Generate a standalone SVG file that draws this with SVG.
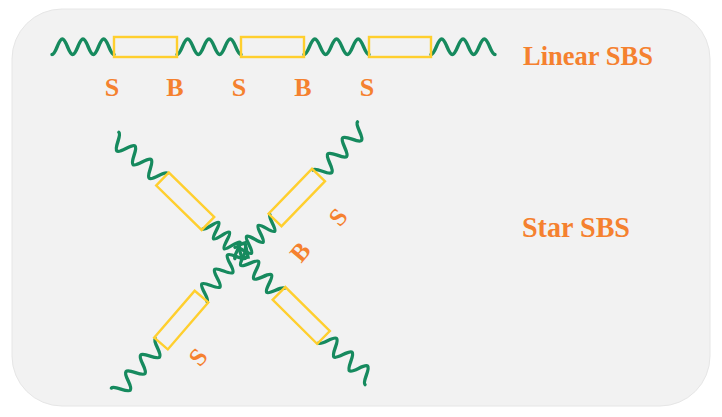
<svg xmlns="http://www.w3.org/2000/svg" width="722" height="417" viewBox="0 0 722 417">
<style>
.wave{fill:none;stroke:#168a5e;stroke-width:3.4;stroke-linecap:round;vector-effect:non-scaling-stroke}
.box{fill:none;stroke:#ffcf2e;stroke-width:2.4}
.lbl{font-family:"Liberation Serif","Times New Roman",serif;font-weight:bold;fill:#f5812f}
</style>
<defs>
<path id="w" class="wave" d="M0,7.5 C4.2,7.5 6.3,-8 10.5,-8 S16.8,7.5 21,7.5 S27.3,-8 31.5,-8 S37.8,7.5 42,7.5 S48.3,-8 52.5,-8 S58.8,7.5 63,7.5"/>
</defs>
<rect width="722" height="417" fill="#ffffff"/>
<rect id="panel" x="12" y="9" width="698" height="397" rx="50" ry="50" fill="#f2f2f2" stroke="#e6e6e6" stroke-width="1"/>

<g id="connectors">
  <!-- linear chain springs -->
  <use href="#w" transform="translate(52,47) scale(0.984,1)"/>
  <use href="#w" transform="translate(177,47) scale(1.016,1)"/>
  <use href="#w" transform="translate(304,47) scale(1.032,1)"/>
  <use href="#w" transform="translate(431,47) scale(1.016,1)"/>
  <!-- star arms: outer springs -->
  <use href="#w" transform="translate(114,138) rotate(40.2) scale(1.008,-1)"/>
  <use href="#w" transform="translate(363,127) rotate(132.8) scale(1.04,1)"/>
  <use href="#w" transform="translate(117,393) rotate(-48.4) scale(1.05,-1)"/>
  <use href="#w" transform="translate(370,379) rotate(-138.25) scale(0.99,-1)"/>
  <!-- star arms: inner springs -->
  <use href="#w" transform="translate(208,223.5) rotate(42.7) scale(0.69,1)"/>
  <use href="#w" transform="translate(275,220) rotate(136.7) scale(0.76,1)"/>
  <use href="#w" transform="translate(201.5,296.5) rotate(-48.5) scale(0.92,1)"/>
  <use href="#w" transform="translate(279,293.5) rotate(-133.9) scale(0.89,1)"/>
  <!-- core knot -->
  <path class="wave" d="M238,245 L245,243 L248,257 L242,258 Z"/>
</g>

<g id="linear-B1"><rect class="box" x="114" y="37" width="63" height="20"/></g>
<g id="linear-B2"><rect class="box" x="241" y="37" width="63" height="20"/></g>
<g id="linear-B3"><rect class="box" x="369" y="37" width="62" height="20"/></g>

<g id="star-B-ul"><rect class="box" x="0" y="-9" width="63.6" height="18" transform="translate(162.5,179) rotate(44.4)"/></g>
<g id="star-B-ur"><rect class="box" x="0" y="-9" width="62.6" height="18" transform="translate(318.5,175) rotate(134)"/></g>
<g id="star-B-ll"><rect class="box" x="0" y="-9" width="62" height="18" transform="translate(161,343.5) rotate(-49.2)"/></g>
<g id="star-B-lr"><rect class="box" x="0" y="-9" width="62.6" height="18" transform="translate(323.5,337.5) rotate(-135.3)"/></g>

<g id="linear-labels" class="lbl" font-size="26" text-anchor="middle">
  <text x="112" y="96">S</text>
  <text x="175" y="96">B</text>
  <text x="239" y="96">S</text>
  <text x="303" y="96">B</text>
  <text x="367" y="96">S</text>
</g>

<g id="star-labels" class="lbl" font-size="25" text-anchor="middle">
  <text transform="translate(338,217) rotate(-50)" y="8.5">S</text>
  <text transform="translate(300,252) rotate(-50)" y="8.5">B</text>
  <text transform="translate(198,357) rotate(-50)" y="8.5">S</text>
</g>

<g id="titles" class="lbl">
  <text x="523" y="65" font-size="27" textLength="130" lengthAdjust="spacingAndGlyphs">Linear SBS</text>
  <text x="522" y="237" font-size="29" textLength="108" lengthAdjust="spacingAndGlyphs">Star SBS</text>
</g>
</svg>
